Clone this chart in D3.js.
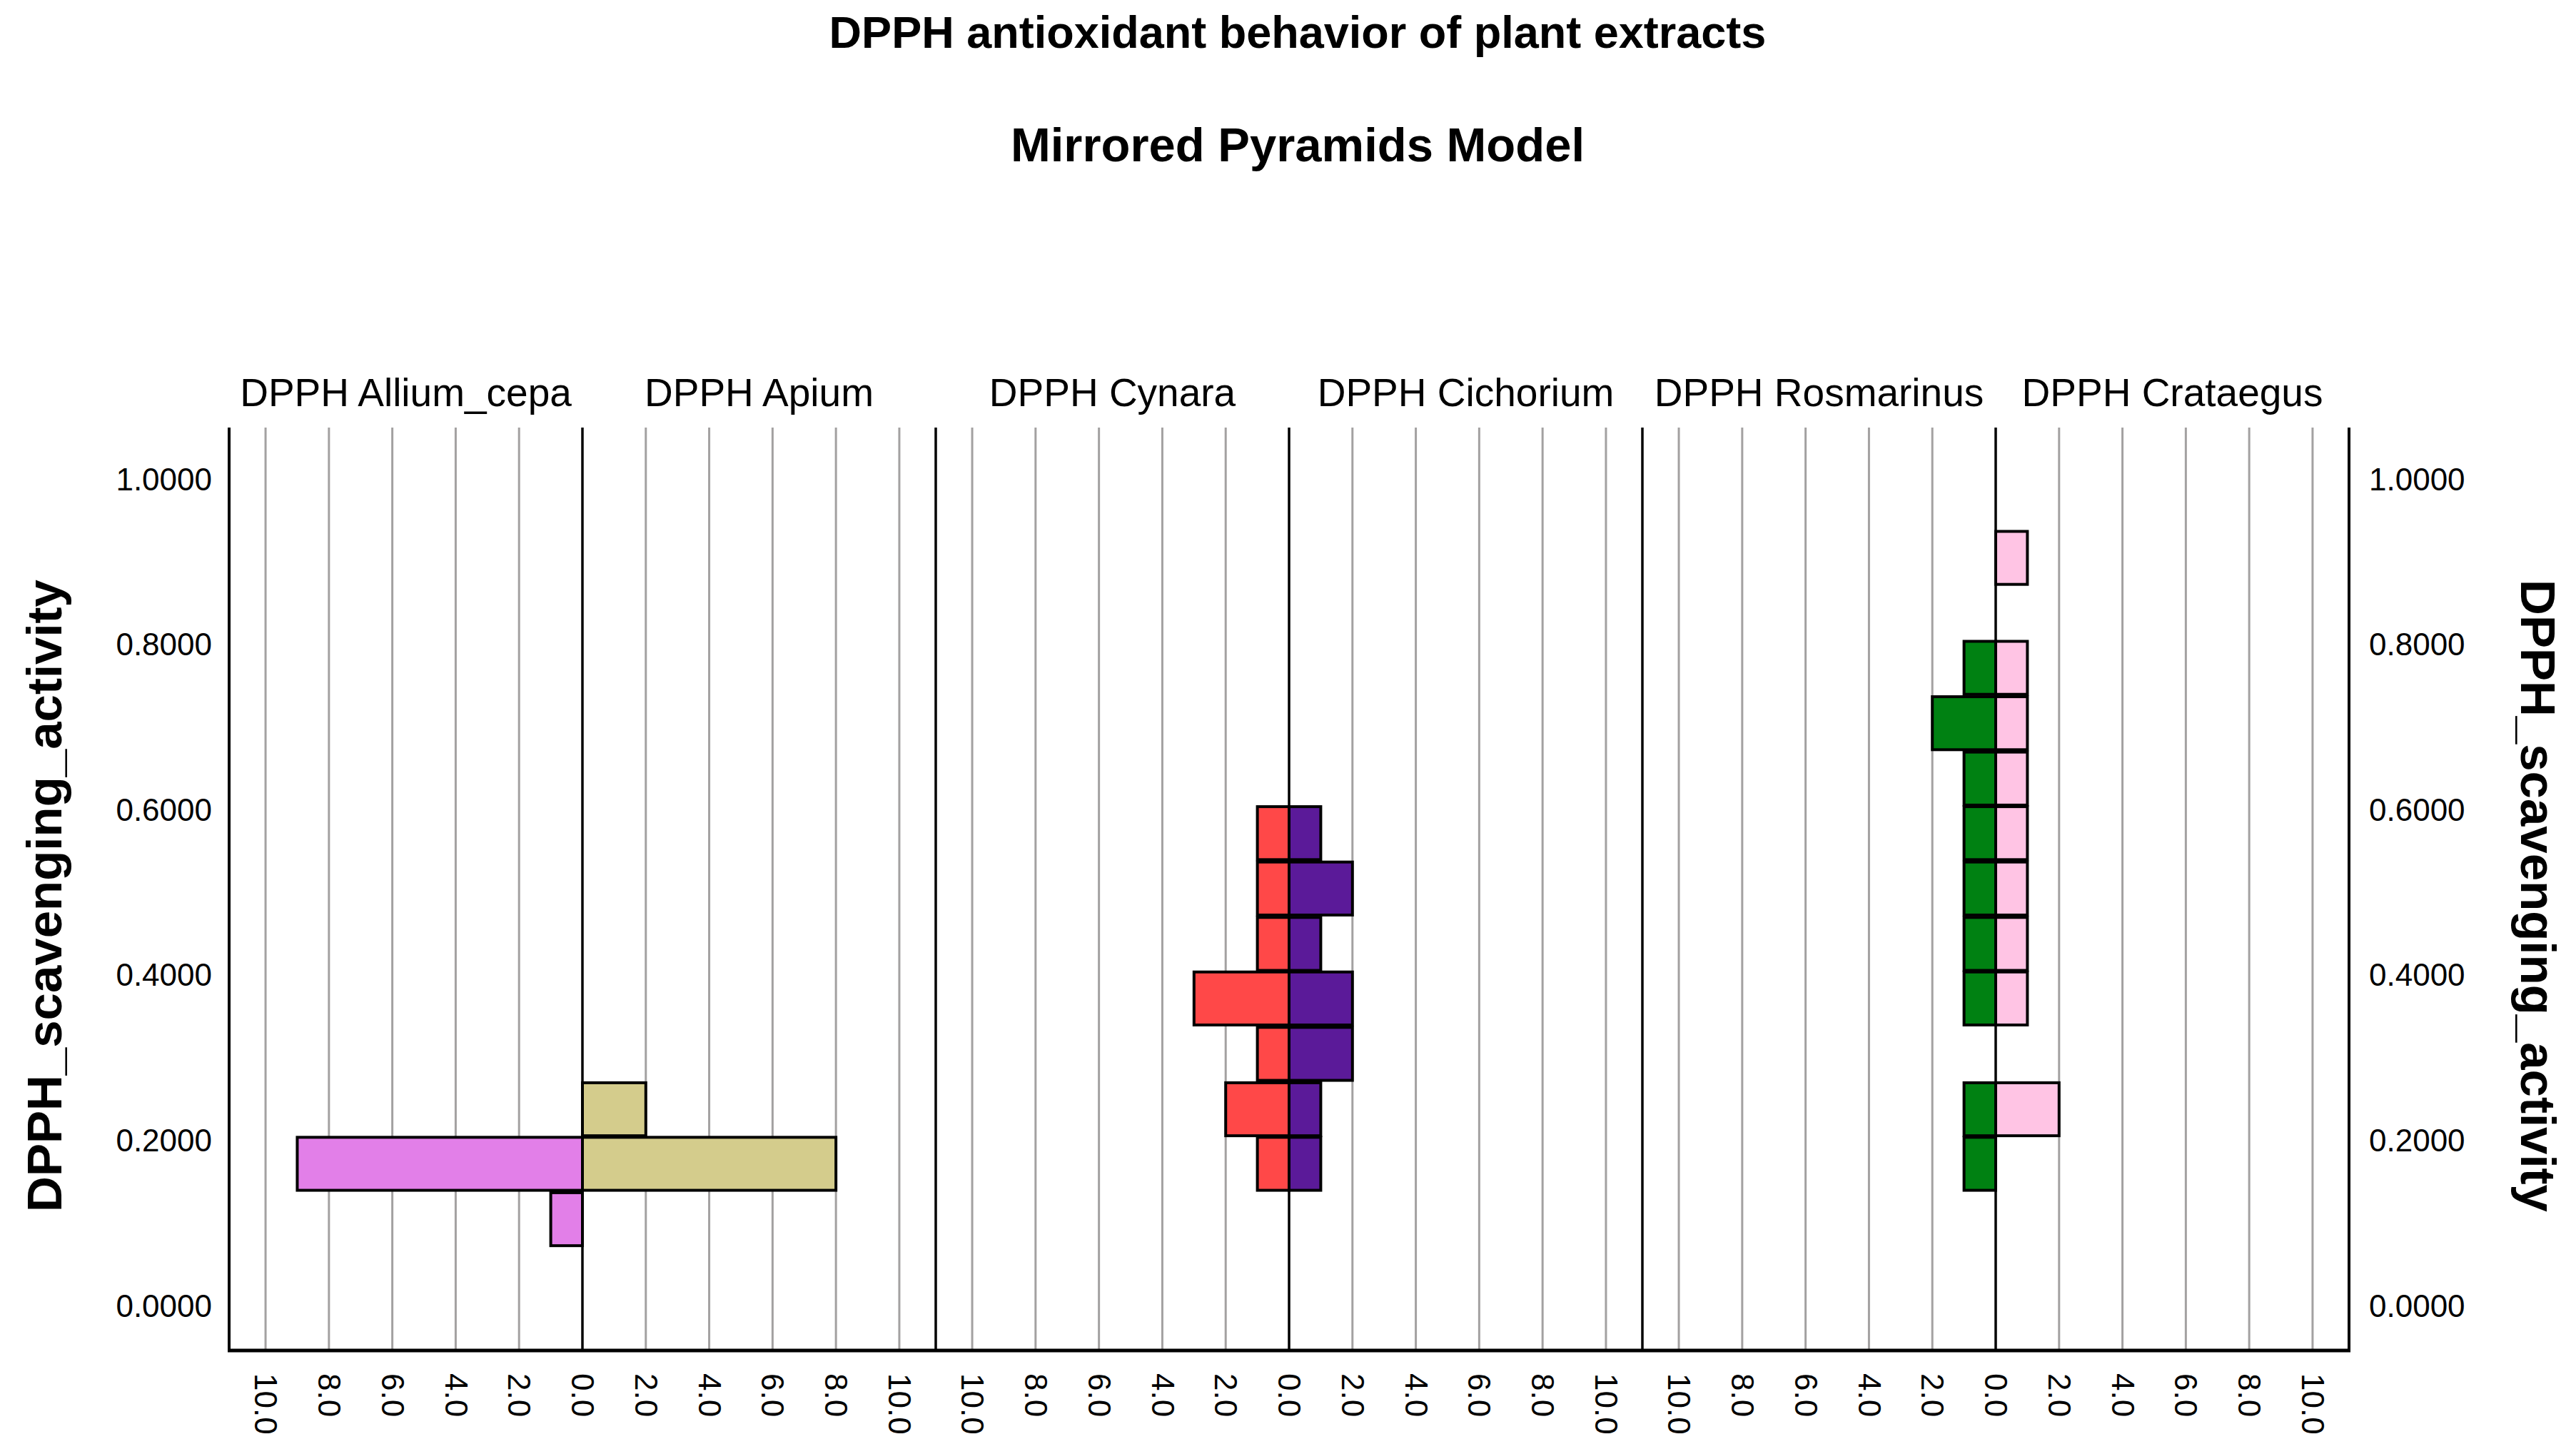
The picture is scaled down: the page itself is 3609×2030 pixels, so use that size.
<!DOCTYPE html>
<html>
<head>
<meta charset="utf-8">
<script src="https://cdn.jsdelivr.net/npm/d3@7"></script>
<style>
  body { margin: 0; background: #fff; }
  text { font-family: "Liberation Sans", Arial, sans-serif; }
</style>
</head>
<body>
<div id="chart"></div>
<script>
// histogram bins (lower edges) of DPPH_scavenging_activity
const binLows = [0.072, 0.139, 0.205, 0.272, 0.339, 0.405, 0.472, 0.539, 0.605, 0.672, 0.739, 0.805, 0.872];
const binWidth = 0.0667;

// counts per bin
const alliumCepa = [1, 9, 0, 0, 0, 0, 0, 0, 0, 0, 0, 0, 0];
const apium      = [0, 8, 2, 0, 0, 0, 0, 0, 0, 0, 0, 0, 0];
const cynara     = [0, 1, 2, 1, 3, 1, 1, 1, 0, 0, 0, 0, 0];
const cichorium  = [0, 1, 1, 2, 2, 1, 2, 1, 0, 0, 0, 0, 0];
const rosmarinus = [0, 1, 1, 0, 1, 1, 1, 1, 1, 2, 1, 0, 0];
const crataegus  = [0, 0, 2, 0, 1, 1, 1, 1, 1, 1, 1, 0, 1];

const panels = [
  { left: { name: "DPPH Allium_cepa", counts: alliumCepa, color: "#E27FE8" },
    right: { name: "DPPH Apium", counts: apium, color: "#D4CC8C" } },
  { left: { name: "DPPH Cynara", counts: cynara, color: "#FF4848" },
    right: { name: "DPPH Cichorium", counts: cichorium, color: "#5B1A99" } },
  { left: { name: "DPPH Rosmarinus", counts: rosmarinus, color: "#008112" },
    right: { name: "DPPH Crataegus", counts: crataegus, color: "#FFC4E4" } }
];

const yTicks = [0, 0.2, 0.4, 0.6, 0.8, 1.0];
const xTicksLeft = [2, 4, 6, 8, 10];
const xTicksRight = [0, 2, 4, 6, 8, 10];

const W = 3609, H = 2030;
const plotLeft = 321, plotTop = 599, plotBottom = 1892;
const panelW = 990, halfW = panelW / 2;
const plotRight = plotLeft + panelW * panels.length;
const xMax = 11.15;

const svg = d3.select("#chart").append("svg")
  .attr("width", W)
  .attr("height", H);

const y = d3.scaleLinear().domain([-0.0535, 1.063]).range([plotBottom, plotTop]);

// titles
svg.append("text")
  .attr("x", 1818).attr("y", 67)
  .attr("text-anchor", "middle")
  .attr("font-size", 63).attr("font-weight", "bold")
  .text("DPPH antioxidant behavior of plant extracts");

svg.append("text")
  .attr("x", 1818).attr("y", 226)
  .attr("text-anchor", "middle")
  .attr("font-size", 67).attr("font-weight", "bold")
  .text("Mirrored Pyramids Model");

const grid = svg.append("g");
const bars = svg.append("g");
const frame = svg.append("g");

panels.forEach((p, i) => {
  const left = plotLeft + i * panelW;
  const center = left + halfW;

  const xl = d3.scaleLinear().domain([0, xMax]).range([center, center - halfW]);
  const xr = d3.scaleLinear().domain([0, xMax]).range([center, center + halfW]);

  // gridlines
  [[xl, xTicksLeft], [xr, xTicksRight.slice(1)]].forEach(([sc, ticks]) => {
    grid.selectAll(null)
      .data(ticks)
      .enter()
      .append("line")
        .attr("x1", d => sc(d)).attr("x2", d => sc(d))
        .attr("y1", plotTop).attr("y2", plotBottom)
        .attr("stroke", "#A3A1A1")
        .attr("stroke-width", 3);
  });

  // bars
  [[xl, p.left], [xr, p.right]].forEach(([sc, s]) => {
    const data = binLows.map((lo, k) => ({ lo: lo, n: s.counts[k] })).filter(d => d.n > 0);
    bars.selectAll(null)
      .data(data)
      .enter()
      .append("rect")
        .attr("x", d => Math.min(sc(0), sc(d.n)))
        .attr("width", d => Math.abs(sc(d.n) - sc(0)))
        .attr("y", d => y(d.lo + binWidth) + 1.5)
        .attr("height", d => y(d.lo) - y(d.lo + binWidth) - 3)
        .attr("fill", s.color)
        .attr("stroke", "#000")
        .attr("stroke-width", 4);
  });

  // headers
  svg.append("text")
    .attr("x", center - halfW / 2).attr("y", 569)
    .attr("text-anchor", "middle").attr("font-size", 55)
    .text(p.left.name);
  svg.append("text")
    .attr("x", center + halfW / 2).attr("y", 569)
    .attr("text-anchor", "middle").attr("font-size", 55)
    .text(p.right.name);

  // center line and panel separator
  frame.append("line")
    .attr("x1", center).attr("x2", center)
    .attr("y1", plotTop).attr("y2", plotBottom)
    .attr("stroke", "#000").attr("stroke-width", 3.5);
  if (i > 0) {
    frame.append("line")
      .attr("x1", left).attr("x2", left)
      .attr("y1", plotTop).attr("y2", plotBottom)
      .attr("stroke", "#000").attr("stroke-width", 3.5);
  }

  // bottom tick labels, rotated
  [[xl, xTicksLeft], [xr, xTicksRight]].forEach(([sc, ticks]) => {
    const ax = svg.append("g")
      .attr("transform", `translate(0,${plotBottom})`)
      .call(d3.axisBottom(sc).tickValues(ticks).tickSize(0).tickFormat(d3.format(".1f")));
    ax.select(".domain").remove();
    ax.selectAll("text")
      .attr("x", 0).attr("y", 0)
      .attr("dy", "0.35em")
      .attr("transform", "translate(0,32) rotate(90)")
      .attr("text-anchor", "start")
      .attr("font-size", 44)
      .attr("font-family", "Liberation Sans, Arial, sans-serif")
      .attr("fill", "#000");
  });
});

// outer frame
frame.append("line")
  .attr("x1", plotLeft).attr("x2", plotLeft)
  .attr("y1", plotTop).attr("y2", plotBottom)
  .attr("stroke", "#000").attr("stroke-width", 4);
frame.append("line")
  .attr("x1", plotRight).attr("x2", plotRight)
  .attr("y1", plotTop).attr("y2", plotBottom)
  .attr("stroke", "#000").attr("stroke-width", 4);
frame.append("line")
  .attr("x1", plotLeft - 2).attr("x2", plotRight + 2)
  .attr("y1", plotBottom).attr("y2", plotBottom)
  .attr("stroke", "#000").attr("stroke-width", 5);

// y axes
const yl = svg.append("g")
  .attr("transform", `translate(${plotLeft},0)`)
  .call(d3.axisLeft(y).tickValues(yTicks).tickSize(0).tickPadding(24).tickFormat(d3.format(".4f")));
const yr = svg.append("g")
  .attr("transform", `translate(${plotRight},0)`)
  .call(d3.axisRight(y).tickValues(yTicks).tickSize(0).tickPadding(28).tickFormat(d3.format(".4f")));
[yl, yr].forEach(ax => {
  ax.select(".domain").remove();
  ax.selectAll("text")
    .attr("font-size", 44)
    .attr("font-family", "Liberation Sans, Arial, sans-serif")
    .attr("fill", "#000");
});

// y titles
svg.append("text")
  .attr("transform", "translate(86,1255) rotate(-90)")
  .attr("text-anchor", "middle")
  .attr("font-size", 69).attr("font-weight", "bold")
  .text("DPPH_scavenging_activity");
svg.append("text")
  .attr("transform", "translate(3532,1255) rotate(90)")
  .attr("text-anchor", "middle")
  .attr("font-size", 69).attr("font-weight", "bold")
  .text("DPPH_scavenging_activity");
</script>
</body>
</html>
